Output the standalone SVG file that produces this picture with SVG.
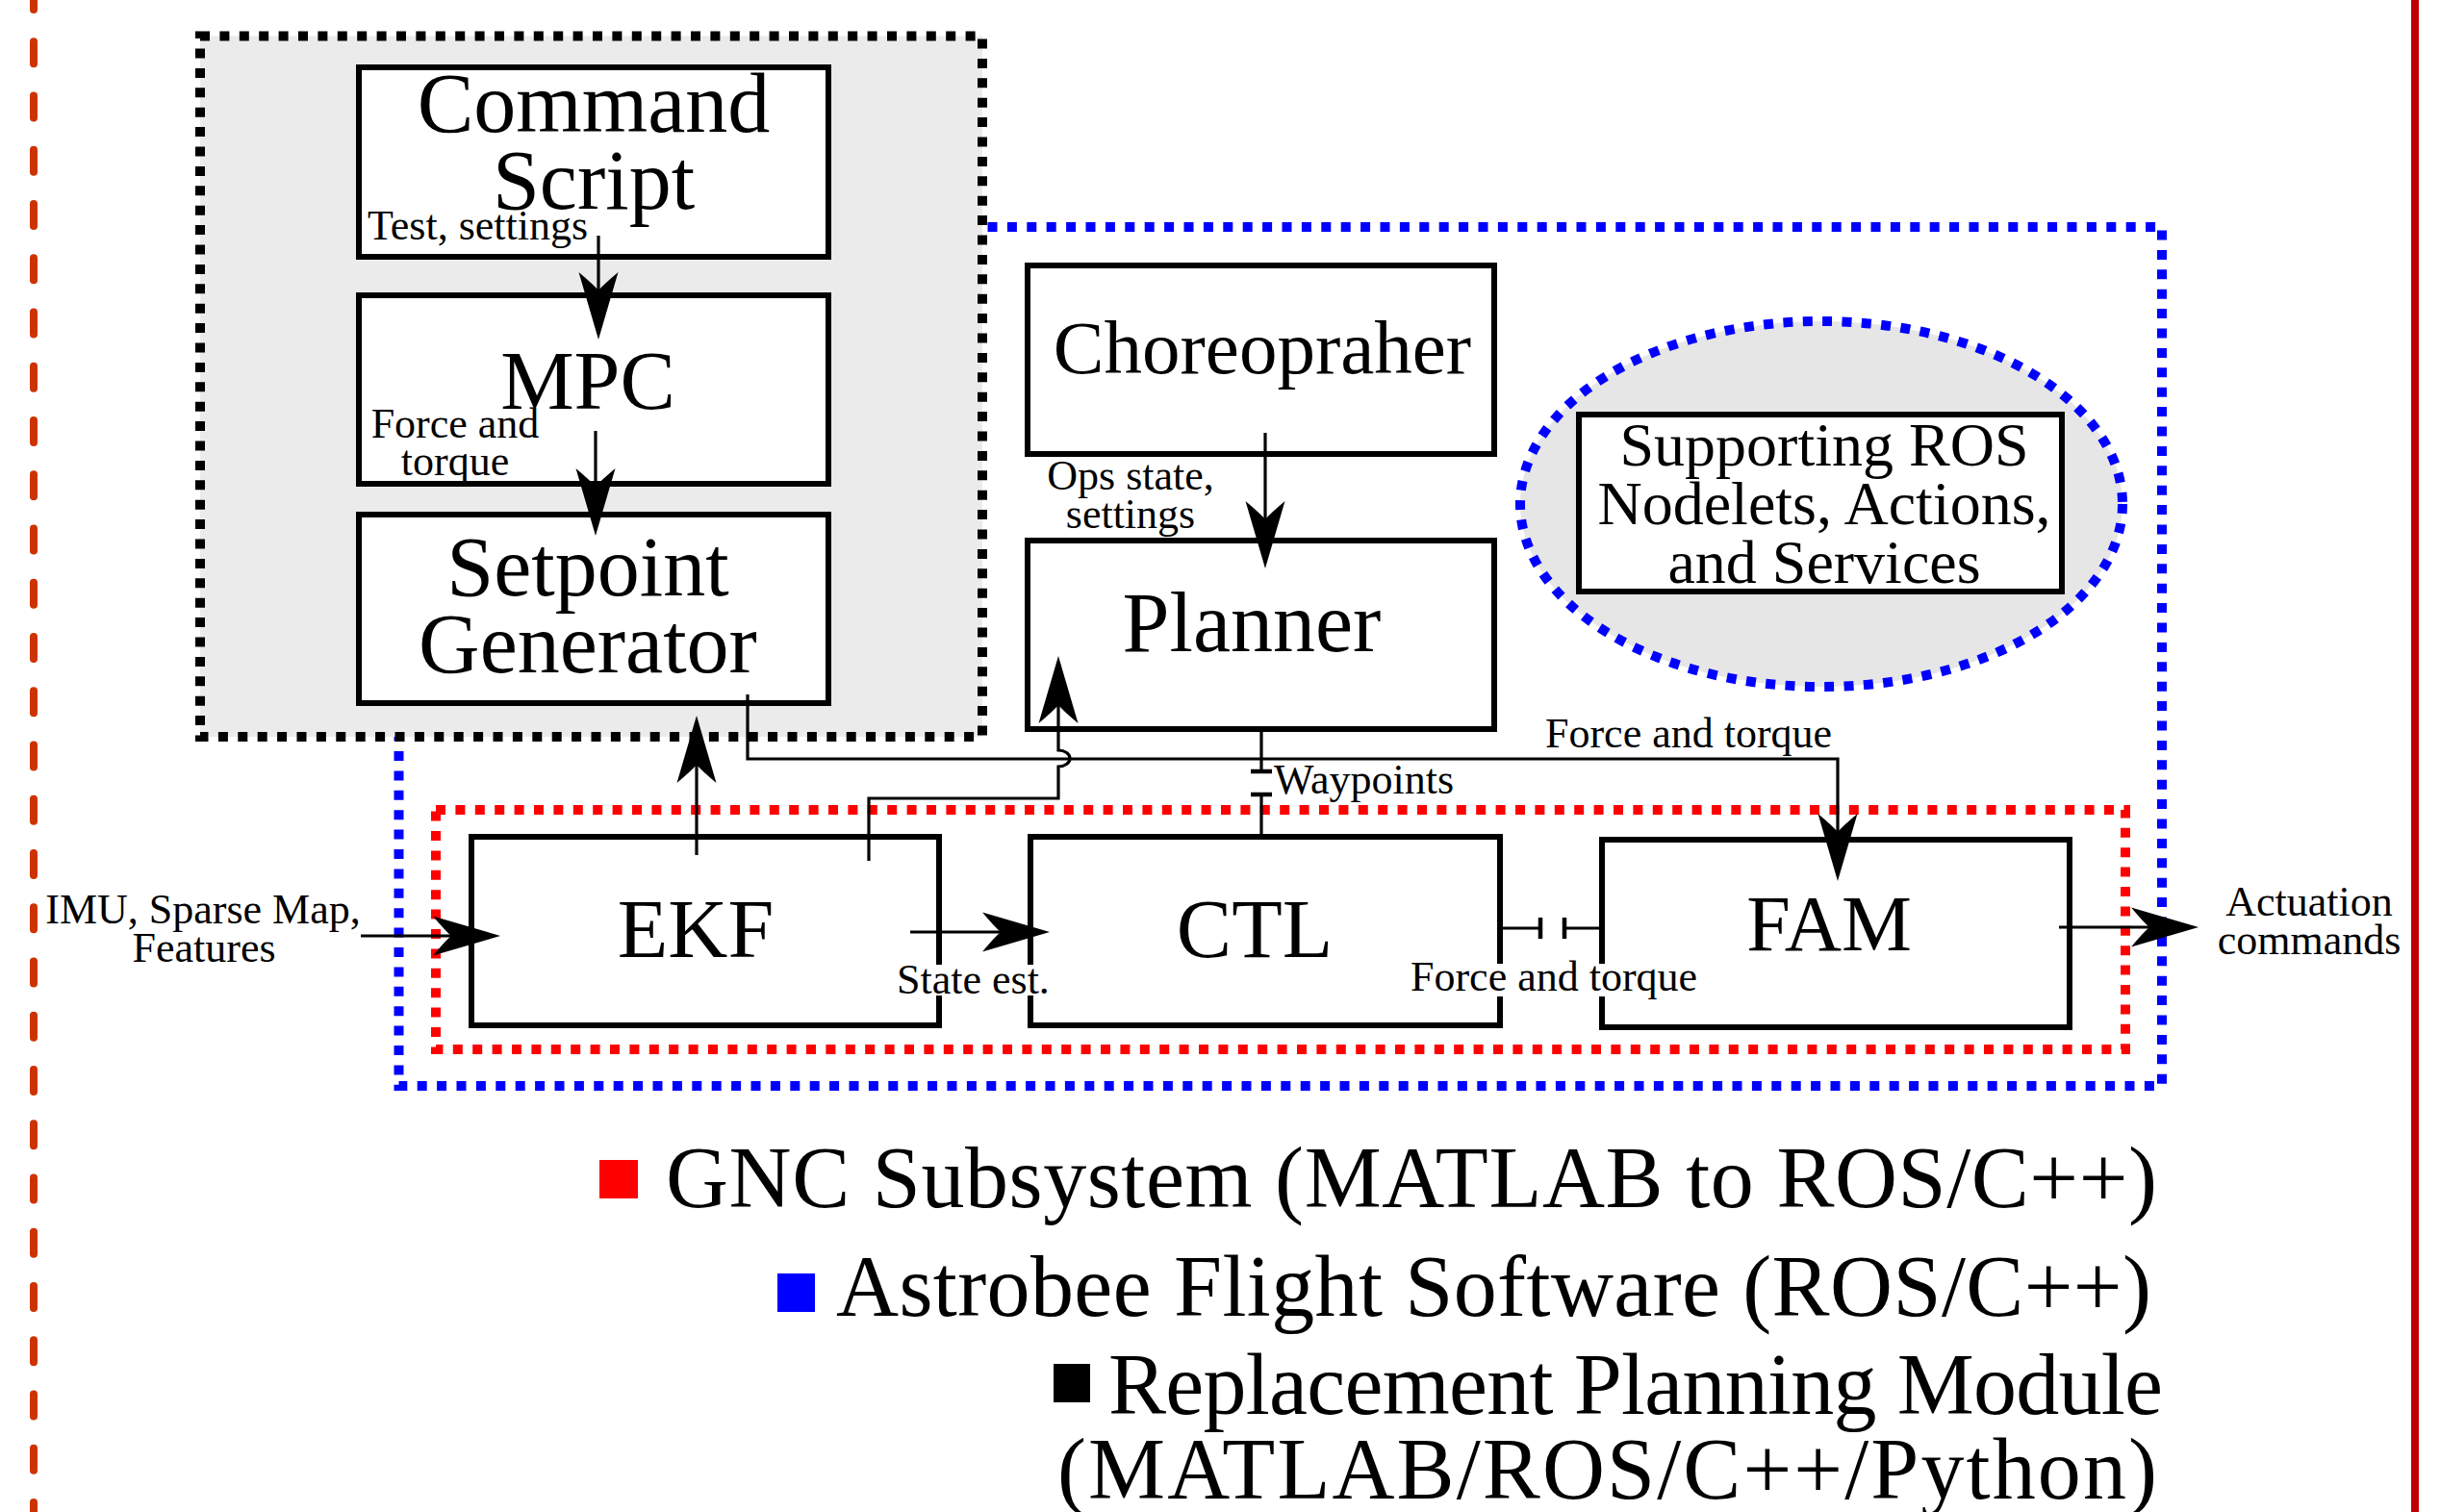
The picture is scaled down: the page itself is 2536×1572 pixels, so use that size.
<svg xmlns="http://www.w3.org/2000/svg" width="2536" height="1572" viewBox="0 0 2536 1572">
<style>
  text { font-family: "Liberation Serif", "Times New Roman", serif; fill: #000; }
  .big { font-size: 86px; text-anchor: middle; }
  .lbl { font-size: 44px; }
  .mid { text-anchor: middle; }
  .leg { font-size: 90px; text-anchor: end; }
  .box { fill: #fff; stroke: #000; stroke-width: 6; }
  .dot { stroke-width: 10; stroke-dasharray: 10 10.4; }
  .con { fill: none; stroke: #000; stroke-width: 3.2; }
  .bar { fill: none; stroke: #000; stroke-width: 4.5; }
</style>
<defs>
  <marker id="arr" markerUnits="userSpaceOnUse" viewBox="-25 -25 80 50" refX="0" refY="0" markerWidth="80" markerHeight="50" orient="auto">
    <path d="M51,0 L-19,-20.5 Q-6,-5 0,0 Q-6,5 -19,20.5 Z" fill="#000"/>
  </marker>
</defs>
<rect x="0" y="0" width="2536" height="1572" fill="#fff"/>

<!-- page margin lines -->
<line x1="35" y1="0" x2="35" y2="1572" stroke="#cc3300" stroke-width="8" stroke-linecap="round" stroke-dasharray="23 33.25" stroke-dashoffset="13"/>
<line x1="2510" y1="0" x2="2510" y2="1572" stroke="#c00000" stroke-width="8"/>

<!-- grouping regions -->
<g id="region-flight-software">
  <rect x="414.5" y="236" width="1832.5" height="893" fill="none" stroke="#0000ff" class="dot"/>
</g>
<g id="region-planning-module">
  <rect x="208" y="37.5" width="813" height="728.5" fill="#ebebeb" stroke="#000" class="dot"/>
</g>
<g id="region-gnc">
  <rect x="453" y="842" width="1756" height="249" fill="none" stroke="#ff0000" class="dot"/>
</g>
<g id="region-support">
  <ellipse cx="1893" cy="524" rx="313" ry="190" fill="#e6e6e6" stroke="#0000ff" class="dot"/>
</g>

<!-- nodes -->
<g id="command-script">
  <rect class="box" x="373" y="70" width="488" height="197"/>
  <text class="big" x="617" y="137" style="font-size:88px">Command</text>
  <text class="big" x="617" y="217" style="font-size:88px">Script</text>
</g>
<g id="mpc">
  <rect class="box" x="373" y="307" width="488" height="196"/>
  <text class="big" x="611" y="425">MPC</text>
</g>
<g id="setpoint-generator">
  <rect class="box" x="373" y="535" width="488" height="196"/>
  <text class="big" x="611" y="619" style="font-size:88px">Setpoint</text>
  <text class="big" x="611" y="699" style="font-size:88px">Generator</text>
</g>
<g id="choreographer">
  <rect class="box" x="1068" y="276" width="485" height="196"/>
  <text class="big" x="1312" y="388" style="font-size:79px">Choreopraher</text>
</g>
<g id="planner">
  <rect class="box" x="1068" y="562" width="485" height="196"/>
  <text class="big" x="1301" y="677" style="font-size:88px">Planner</text>
</g>
<g id="supporting-ros">
  <rect class="box" x="1641" y="431" width="502" height="184"/>
  <text class="big" x="1896" y="484" style="font-size:64px">Supporting ROS</text>
  <text class="big" x="1896" y="545" style="font-size:64px">Nodelets, Actions,</text>
  <text class="big" x="1896" y="606" style="font-size:64px">and Services</text>
</g>
<g id="ekf">
  <rect class="box" x="490" y="870" width="486" height="196"/>
  <text class="big" x="723" y="995">EKF</text>
</g>
<g id="ctl">
  <rect class="box" x="1071" y="870" width="488" height="196"/>
  <text class="big" x="1304" y="995">CTL</text>
</g>
<g id="fam">
  <rect class="box" x="1665" y="873" width="486" height="195"/>
  <text class="big" x="1901" y="988" style="font-size:82px">FAM</text>
</g>

<!-- connectors -->
<g id="connectors">
  <path class="con" d="M622,245 V302" marker-end="url(#arr)"/>
  <path class="con" d="M619,448 V506" marker-end="url(#arr)"/>
  <path class="con" d="M1315,450 V540" marker-end="url(#arr)"/>
  <path class="con" d="M724,889 V795" marker-end="url(#arr)"/>
  <path class="con" d="M777,722 V789 H1910 V865" marker-end="url(#arr)"/>
  <path class="con" d="M903,895 V830 H1100 V797 A12,8.5 0 0 0 1100,780 V733" marker-end="url(#arr)"/>
  <path class="con" d="M375,973 H469" marker-end="url(#arr)"/>
  <path class="con" d="M946,969 H1040" marker-end="url(#arr)"/>
  <path class="con" d="M2140,964 H2234" marker-end="url(#arr)"/>
  <!-- waypoints interface -->
  <path class="con" d="M1311,758 V802 M1311,826 V868"/>
  <path class="bar" d="M1300,802 H1322 M1300,826 H1322"/>
  <!-- CTL to FAM interface -->
  <path class="con" d="M1559,965 H1601 M1626,965 H1665"/>
  <path class="bar" d="M1601,954 V976 M1626,954 V976"/>
</g>

<!-- labels -->
<g id="labels">
  <text class="lbl" x="382" y="249">Test, settings</text>
  <text class="lbl mid" x="473" y="455">Force and</text>
  <text class="lbl mid" x="473" y="494">torque</text>
  <text class="lbl mid" x="1175" y="509">Ops state,</text>
  <text class="lbl mid" x="1175" y="549">settings</text>
  <text class="lbl" x="1324" y="825">Waypoints</text>
  <text class="lbl" x="1606" y="777">Force and torque</text>
  <rect x="930" y="1003" width="170" height="32" fill="#fff"/>
  <text class="lbl" x="932" y="1033">State est.</text>
  <rect x="1464" y="1002" width="306" height="34" fill="#fff"/>
  <text class="lbl" x="1466" y="1030">Force and torque</text>
  <text class="lbl mid" x="211" y="960">IMU, Sparse Map,</text>
  <text class="lbl mid" x="212" y="1000">Features</text>
  <text class="lbl mid" x="2400" y="952">Actuation</text>
  <text class="lbl mid" x="2400" y="992">commands</text>
</g>

<!-- legend -->
<g id="legend">
  <rect x="623" y="1206" width="40" height="40" fill="#ff0000"/>
  <text class="leg" x="2242" y="1255" textLength="1550">GNC Subsystem (MATLAB to ROS/C++)</text>
  <rect x="808" y="1324" width="39" height="40" fill="#0000ff"/>
  <text class="leg" x="2236" y="1368" textLength="1367">Astrobee Flight Software (ROS/C++)</text>
  <rect x="1095" y="1418" width="38" height="40" fill="#000"/>
  <text class="leg" x="2248" y="1470" textLength="1096">Replacement Planning Module</text>
  <text class="leg" x="2242" y="1558" textLength="1143">(MATLAB/ROS/C++/Python)</text>
</g>
</svg>
